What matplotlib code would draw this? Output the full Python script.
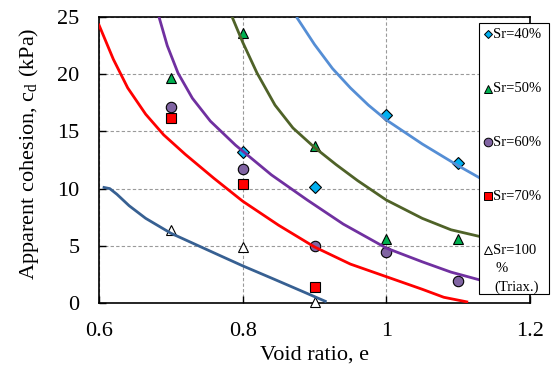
import matplotlib
matplotlib.use('Agg')
import matplotlib.pyplot as plt
from matplotlib.ticker import FormatStrFormatter
from matplotlib.patches import Rectangle
from matplotlib.lines import Line2D

plt.rcParams['font.family'] = ['Liberation Serif', 'DejaVu Serif']
plt.rcParams['mathtext.fontset'] = 'stix'

# measured points
e_40 = [0.8, 0.9, 1.0, 1.1]
c_40 = [13.2, 10.1, 16.4, 12.2]
e_50 = [0.7, 0.8, 0.9, 1.0, 1.1]
c_50 = [19.7, 23.6, 13.7, 5.6, 5.6]
e_60 = [0.7, 0.8, 0.9, 1.0, 1.1]
c_60 = [17.1, 11.7, 5.0, 4.5, 1.9]
e_70 = [0.7, 0.8, 0.9]
c_70 = [16.2, 10.4, 1.4]
e_100 = [0.7, 0.8, 0.9]
c_100 = [6.4, 4.9, 0.1]

# fitted curves
fit40_e = [0.876, 0.90, 0.925, 0.95, 0.975, 1.0, 1.05, 1.10, 1.131]
fit40_c = [24.9, 22.6, 20.5, 18.8, 17.3, 16.0, 13.9, 12.0, 10.9]
fit50_e = [0.786, 0.80, 0.82, 0.845, 0.87, 0.90, 0.93, 0.96, 1.0, 1.05, 1.09, 1.131]
fit50_c = [24.9, 22.8, 20.1, 17.3, 15.3, 13.6, 12.1, 10.7, 9.0, 7.4, 6.4, 5.8]
fit60_e = [0.684, 0.695, 0.71, 0.73, 0.755, 0.79, 0.84, 0.89, 0.94, 1.0, 1.05, 1.09, 1.131]
fit60_c = [24.9, 22.5, 20.1, 17.9, 15.9, 13.8, 11.2, 9.0, 6.9, 4.8, 3.6, 2.7, 2.0]
fit70_e = [0.600, 0.62, 0.64, 0.665, 0.69, 0.72, 0.76, 0.80, 0.85, 0.90, 0.95, 1.00, 1.05, 1.08, 1.112]
fit70_c = [24.3, 21.3, 18.8, 16.5, 14.7, 13.0, 10.9, 8.9, 6.8, 4.9, 3.4, 2.3, 1.2, 0.5, 0.1]
fit100_e = [0.607, 0.615, 0.625, 0.642, 0.665, 0.70, 0.735, 0.77, 0.80, 0.843, 0.88, 0.915]
fit100_c = [10.1, 10.0, 9.5, 8.5, 7.4, 6.1, 5.1, 4.1, 3.25, 2.1, 1.1, 0.15]

leg_labels = ['Sr=40%', 'Sr=50%', 'Sr=60%', 'Sr=70%', 'Sr=100']

W, H = 551, 376
fig = plt.figure(figsize=(W/100, H/100), dpi=100)
ax = fig.add_axes([99/W, 1-303/H, 431/W, 286/H])

ms = 7
ax.plot(e_40, c_40, 'D', ms=6, mfc='#00B0F0', mec='black', mew=0.8, zorder=3)
ax.plot(e_50, c_50, '^', ms=ms, mfc='#00B050', mec='black', mew=0.8, zorder=3)
ax.plot(e_60, c_60, 'o', ms=ms+0.5, mfc='#8064A2', mec='black', mew=0.8, zorder=3)
ax.plot(e_70, c_70, 's', ms=ms, mfc='#FF0000', mec='black', mew=0.8, zorder=3)
ax.plot(e_100, c_100, '^', ms=ms, mfc='white', mec='black', mew=0.8, zorder=3, clip_on=False)

lw = 2.0
for xs, ys, col in [(fit40_e, fit40_c, '#558ED5'), (fit50_e, fit50_c, '#4F6228'),
                    (fit60_e, fit60_c, '#7030A0'), (fit70_e, fit70_c, '#FF0000'),
                    (fit100_e, fit100_c, '#376092')]:
    ax.plot(xs, ys, '-', color=col, lw=lw, zorder=4, solid_joinstyle='round')

ax.set_xlim(0.6, 1.2)
ax.set_ylim(0, 25)
ax.set_xticks([0.6, 0.8, 1.0, 1.2])
ax.set_yticks([0, 5, 10, 15, 20, 25])
ax.xaxis.set_major_formatter(FormatStrFormatter('%g'))
ax.tick_params(direction='in', length=5, width=1, labelsize=16, pad=14)
ax.grid(True, color='#9A9A9A', linestyle=(0, (3, 2)), lw=0.8)
for s in ax.spines.values():
    s.set_linewidth(1.2)

ax.set_xlabel('Void ratio, e', fontsize=16, labelpad=3)
ax.set_ylabel(r'Apparent cohesion, c$_\mathregular{d}$ (kPa)', fontsize=16)
ax.yaxis.set_label_coords(-0.134, 0.52)

# legend box drawn by hand (tall box over the right side of the axes)
def fx(px):
    return px / W

def fy(py):
    return 1 - py / H

fig.add_artist(Rectangle((fx(479), fy(294)), 70/W, 271/H, transform=fig.transFigure,
                         facecolor='white', edgecolor='black', lw=0.8, zorder=5))
leg_y = [34, 89, 142, 196, 250]
leg_style = [('D', '#00B0F0', 4.3), ('^', '#00B050', 5.5), ('o', '#8064A2', 6.2),
             ('s', '#FF0000', 5.5), ('^', 'white', 5.5)]
for lab, yy, (mk, fc, sz) in zip(leg_labels, leg_y, leg_style):
    fig.add_artist(Line2D([fx(488)], [fy(yy)], marker=mk, ms=sz, mfc=fc, mec='black', mew=0.7,
                          transform=fig.transFigure, zorder=6))
    fig.text(fx(493), fy(yy), lab, fontsize=10.5, va='center', ha='left', zorder=6)
fig.text(fx(496), fy(268), '%', fontsize=10.5, va='center', ha='left', zorder=6)
fig.text(fx(494), fy(287), '(Triax.)', fontsize=10.5, va='center', ha='left', zorder=6)

plt.savefig('out.png', dpi=100)
